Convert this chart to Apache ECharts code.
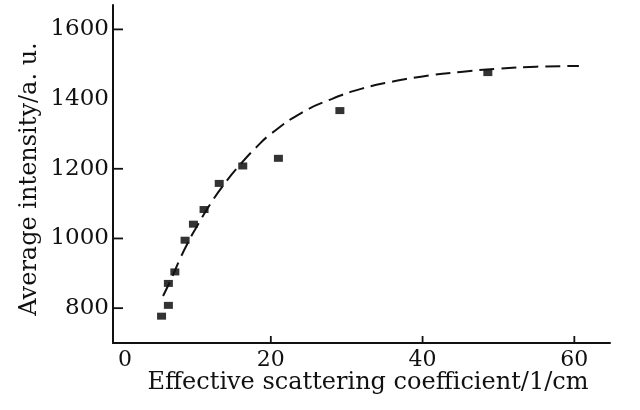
<!DOCTYPE html>
<html><head><meta charset="utf-8">
<script src="https://cdn.jsdelivr.net/npm/echarts@6/dist/echarts.min.js"></script>
<style>html,body{margin:0;padding:0;background:#fff}#c{width:640px;height:410px}</style>
</head><body><div id="c"></div>
<script>
// measured points
var pointX = [5.6, 6.5, 6.5, 7.35, 8.7, 9.8, 11.2, 13.2, 16.3, 21.0, 29.1, 48.6];
var pointY = [777, 808, 871, 904, 995, 1041, 1083, 1158, 1208, 1230, 1367, 1476];
// dashed fit curve
var curveX = [5.8, 7, 8, 9, 10, 12, 14, 16, 18, 20, 24, 28, 32, 36, 40, 45, 50, 55, 60.6];
var curveY = [835, 890, 940, 985, 1025, 1098, 1160, 1213, 1260, 1300, 1360, 1400, 1430, 1450, 1465, 1478, 1487, 1493, 1495];
var xTickLabels = [0, 20, 40, 60];
var xTicks = [20, 40, 60];
var yTickLabels = [800, 1000, 1200, 1400, 1600];
var yTicks = [800, 1000, 1200, 1600];

var X_MIN = -0.8, X_MAX = 64.7, Y_MIN = 700, Y_MAX = 1670;
var font = 'DejaVu Serif';
var ink = '#111';
function plain(v) { return String(v); }

function tickSeries(values, isX, len) {
  return {
    type: 'custom', silent: true, clip: false, z: 5,
    data: values.map(function (v) { return isX ? [v, Y_MIN] : [X_MIN, v]; }),
    renderItem: function (params, api) {
      var p = api.coord([api.value(0), api.value(1)]);
      var shape = isX ? {x1: p[0], y1: p[1], x2: p[0], y2: p[1] - len}
                      : {x1: p[0], y1: p[1], x2: p[0] + len, y2: p[1]};
      return {type: 'line', shape: shape, style: {stroke: ink, lineWidth: 1.8}};
    }
  };
}

var chart = echarts.init(document.getElementById('c'), null, {renderer: 'canvas'});
chart.setOption({
  animation: false,
  backgroundColor: '#fff',
  grid: {left: 113, right: 30, top: 5, bottom: 67, containLabel: false},
  xAxis: {
    type: 'value', min: X_MIN, max: X_MAX,
    name: 'Effective scattering coefficient/1/cm',
    nameLocation: 'middle', nameGap: 28, nameMoveOverlap: false,
    nameTextStyle: {fontFamily: font, fontSize: 24, color: ink, padding: [0, 0, 0, 13]},
    axisLine: {show: true, onZero: false, lineStyle: {color: ink, width: 2}},
    axisTick: {show: false},
    axisLabel: {
      customValues: xTickLabels,
      formatter: function (v) { return v === 0 ? '{z|0}' : String(v); },
      rich: {z: {fontFamily: font, fontSize: 22, color: ink, padding: [0, 0, 0, 12]}},
      fontFamily: font, fontSize: 22, color: ink, margin: 6
    },
    splitLine: {show: false}
  },
  yAxis: {
    type: 'value', min: Y_MIN, max: Y_MAX,
    name: 'Average intensity/a. u.',
    nameLocation: 'middle', nameGap: 71, nameMoveOverlap: false,
    nameTextStyle: {fontFamily: font, fontSize: 24, color: ink, padding: [0, 10, 0, 0]},
    axisLine: {show: true, onZero: false, lineStyle: {color: ink, width: 2}},
    axisTick: {show: false},
    axisLabel: {customValues: yTickLabels, formatter: plain, fontFamily: font, fontSize: 23, color: ink, margin: 4},
    splitLine: {show: false}
  },
  series: [
    {
      type: 'line', smooth: true, showSymbol: false, symbol: 'none',
      data: curveX.map(function (x, i) { return [x, curveY[i]]; }),
      lineStyle: {color: ink, width: 2, type: [15, 7]}
    },
    {
      type: 'scatter', symbol: 'rect', symbolSize: [9, 7],
      data: pointX.map(function (x, i) { return [x, pointY[i]]; }),
      itemStyle: {color: '#000'}
    },
    tickSeries(xTicks, true, 7),
    tickSeries(yTicks, false, 10)
  ]
});
</script></body></html>
